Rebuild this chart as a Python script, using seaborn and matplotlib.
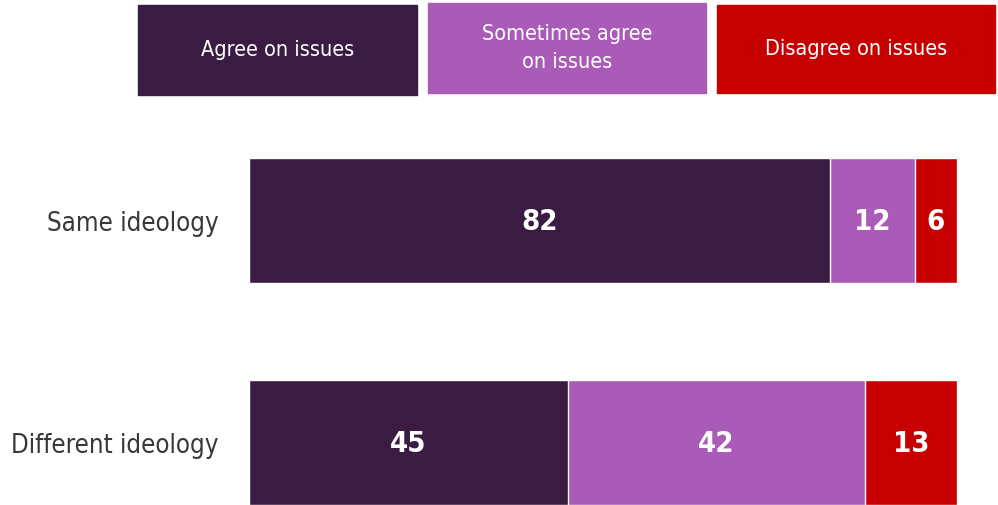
"""
Agreement on issues by ideology match
"""
import matplotlib
matplotlib.use("Agg")
import matplotlib.pyplot as plt
import seaborn as sns
import pandas as pd
from matplotlib.patches import Rectangle

groups = ["Same ideology", "Different ideology"]
agree = [82, 45]
sometimes = [12, 42]
disagree = [6, 13]
series_names = ["Agree on issues", "Sometimes agree\non issues", "Disagree on issues"]
colors = ["#3a1c42", "#a95bb7", "#c60000"]

sns.set_theme(style="white")
plt.rcParams["font.family"] = ["Liberation Sans Narrow", "DejaVu Sans"]
plt.rcParams["font.stretch"] = "condensed"

df = pd.DataFrame({"group": groups, "agree": agree, "sometimes": sometimes, "disagree": disagree})
df["c1"] = df["agree"]
df["c2"] = df["agree"] + df["sometimes"]
df["c3"] = df["c2"] + df["disagree"]

fig = plt.figure(figsize=(9.98, 5.05), dpi=100)
ax = fig.add_axes([249 / 998, 0, (957 - 249) / 998, 405 / 505])

# stacked bars: draw cumulative totals back to front
for col, color in zip(["c3", "c2", "c1"], colors[::-1]):
    sns.barplot(data=df, x=col, y="group", orient="h", color=color, width=0.563,
                edgecolor="white", linewidth=1, saturation=1, ax=ax)

for i, row in df.iterrows():
    starts = [0, row["c1"], row["c2"]]
    vals = [row["agree"], row["sometimes"], row["disagree"]]
    for s, v in zip(starts, vals):
        ax.text(s + v / 2, i + 0.005, f"{v}", ha="center", va="center", color="white",
                fontsize=21, fontweight="bold", fontstretch="condensed")

ax.set_xlim(0, 100)
ax.set_ylim(1.2815, -0.543)
ax.set_xlabel("")
ax.set_ylabel("")
ax.set_xticks([])
ax.tick_params(axis="y", length=0, pad=22, labelsize=18.5, labelcolor="#383838")
for lbl in ax.get_yticklabels():
    lbl.set_fontstretch("condensed")
sns.despine(ax=ax, left=True, bottom=True)

# legend boxes across the top
boxes = [(138, 5, 279, 90), (428, 3, 278, 90), (717, 5, 278, 88)]
for (x, y, w, h), name, color in zip(boxes, series_names, colors):
    fig.patches.append(Rectangle((x / 998, 1 - (y + h) / 505), w / 998, h / 505,
                                 transform=fig.transFigure, color=color))
    fig.text((x + w / 2) / 998, 1 - (y + h / 2) / 505, name, ha="center", va="center",
             color="white", fontsize=15.5, linespacing=1.55, fontstretch="condensed")

fig.savefig("out.png", dpi=100)
